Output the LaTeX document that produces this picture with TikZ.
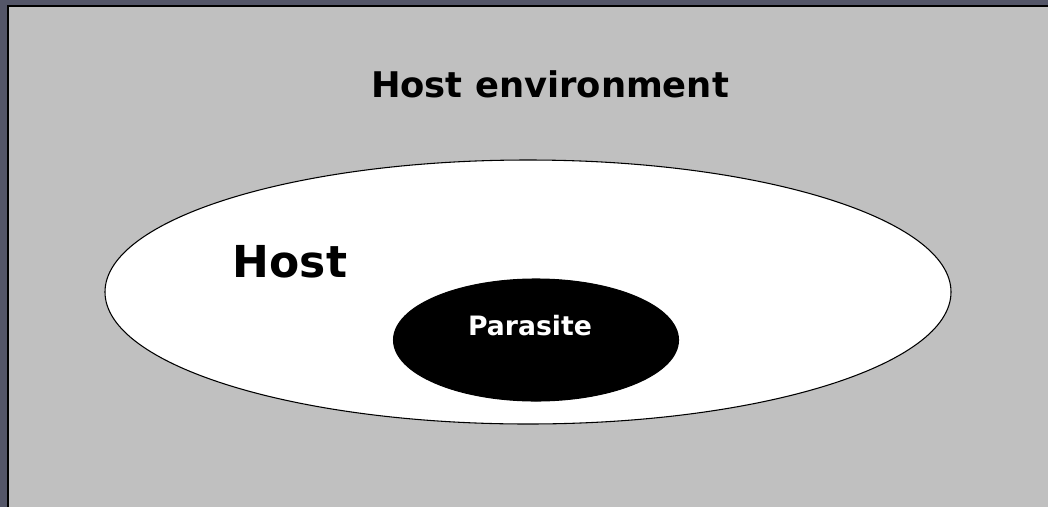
\documentclass[tikz,border=0pt]{standalone}
\usepackage{fontspec}
\setmainfont{DejaVu Sans}
\usetikzlibrary{shapes.geometric, positioning}
\definecolor{frameslate}{RGB}{84, 86, 104}
\definecolor{envgray}{RGB}{192, 192, 192}

\begin{document}
\begin{tikzpicture}[
  x=0.75pt, y=-0.75pt,
  every node/.style = {font=\bfseries},
  oval/.style = {
    ellipse, draw=black, line width=0.8pt,
    inner sep=0pt, outer sep=0pt
  },
  lbl/.style = {inner sep=0pt, anchor=base}
]
\useasboundingbox (0,0) rectangle (1048,507);

% ---- FRAME ----
\fill[frameslate] (0,0) rectangle (1048,507);
\fill[black] (7,5) rectangle (1048,507);
\fill[envgray] (9,7) rectangle (1048,507);

% ---- ELLIPSES ----
\node[oval, fill=white, minimum width=634.5pt, minimum height=198pt] (host) at (528,292) {};
\node[oval, fill=black, minimum width=213.75pt, minimum height=91.5pt] (para) at (536,340) {};

% ---- LABELS ----
\node[lbl, font=\bfseries\fontsize{26.5}{30}\selectfont] (envtxt) at (550,97) {Host environment};
\node[lbl, font=\bfseries\fontsize{33}{38}\selectfont] (hosttxt) at (290,277) {Host};
\node[lbl, font=\bfseries\fontsize{20}{24}\selectfont, text=white] (paratxt) at (530,335) {Parasite};

\end{tikzpicture}
\end{document}
